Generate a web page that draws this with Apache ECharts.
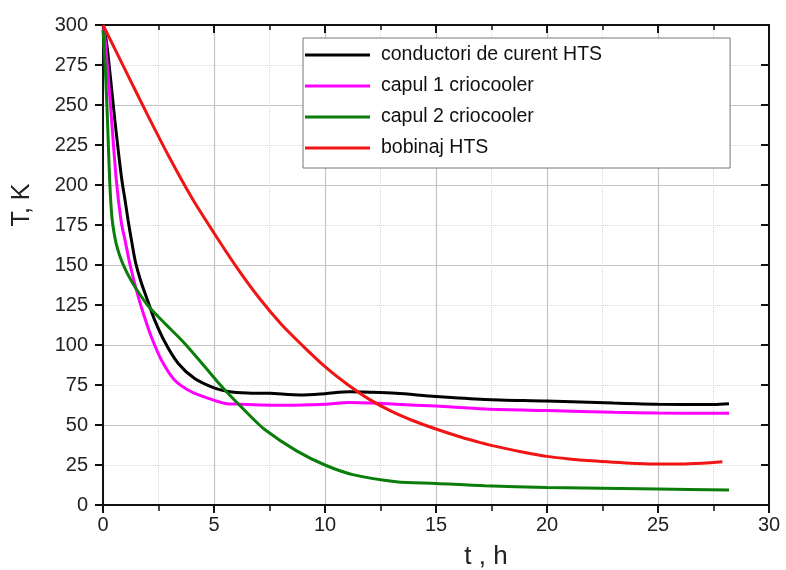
<!DOCTYPE html>
<html>
<head>
<meta charset="utf-8">
<script src="https://cdn.jsdelivr.net/npm/echarts@6/dist/echarts.min.js"></script>
<style>
  html, body { margin: 0; padding: 0; background: #fff; }
  #chart { width: 786px; height: 570px; }
</style>
</head>
<body>
<div id="chart"></div>
<script>
// Cooldown of the HTS magnet system: temperature T (K) versus time t (h)
const seriesNames = ['conductori de curent HTS', 'capul 1 criocooler', 'capul 2 criocooler', 'bobinaj HTS'];
const seriesColors = ['#000000', '#ff00ff', '#0a7d0a', '#f01414'];

// [t (h), T (K)]
const conductori = [
  [0, 300], [0.15, 290], [0.3, 272], [0.53, 241], [0.7, 220], [0.86, 202], [1.0, 190],
  [1.13, 178], [1.3, 164], [1.46, 152], [1.7, 140], [2.03, 127], [2.3, 116.5],
  [2.78, 102], [3.38, 88.6], [4.13, 79], [5.03, 73], [5.63, 71], [6.5, 70], [7.5, 69.8],
  [8.9, 68.8], [10, 69.6], [11.1, 70.8], [12, 70.5], [13.2, 69.8], [15, 67.8], [17.2, 66],
  [20, 65], [23, 63.7], [25, 63], [27.5, 62.8], [28.2, 63.3]
];
const capul1 = [
  [0, 298], [0.1, 290], [0.33, 251], [0.6, 203], [0.82, 177], [1.0, 165], [1.22, 150],
  [1.58, 130.5], [1.88, 117], [2.18, 105], [2.63, 90.6], [3.23, 78], [3.98, 70.8],
  [4.88, 66], [5.5, 63.5], [6.2, 63], [8.3, 62.3], [10, 63], [11.1, 64], [12, 63.8],
  [13.2, 63], [15, 61.8], [17.2, 60], [20, 59], [23, 58], [25, 57.5], [28.2, 57.3]
];
const capul2 = [
  [0, 297], [0.08, 280], [0.19, 245], [0.3, 203], [0.4, 180], [0.5, 170], [0.6, 163],
  [0.75, 156], [0.95, 149], [1.2, 142], [1.5, 135], [2.03, 124.5], [2.78, 113.6],
  [3.68, 101], [4.58, 86.5], [5.48, 72], [6.5, 57.5], [7.3, 47], [8.7, 34], [10, 25],
  [11.25, 19], [13.2, 14.6], [15, 13.5], [17.2, 12], [20, 11], [25, 10], [28.2, 9.4]
];
const bobinaj = [
  [0, 300], [1, 272], [2, 244], [3, 217], [4, 192], [5, 170], [6, 149], [7, 130],
  [8, 113.5], [9, 99.5], [10, 86.5], [11, 75.5], [12, 66], [13, 58.5], [14, 52.5],
  [15, 47.5], [16, 43], [17, 39], [18, 35.7], [19, 32.8], [20, 30.4], [21, 28.8],
  [22, 27.6], [23, 26.7], [24, 26], [25, 25.6], [26, 25.6], [27, 26.1], [27.9, 27]
];
const seriesData = [conductori, capul1, capul2, bobinaj];

const xTicks = { min: 0, max: 30, step: 5 };
const yTicks = { min: 0, max: 300, step: 25 };

const FONT = 'Liberation Sans, Arial, sans-serif';
const gridColor = '#c4c4c4';
const minorColor = '#d6d6d6';

const chart = echarts.init(document.getElementById('chart'), null, { renderer: 'canvas' });

chart.setOption({
  animation: false,
  backgroundColor: '#ffffff',
  grid: { left: 103, top: 25, right: 17, bottom: 65, containLabel: false },
  legend: {
    data: seriesNames.map(n => ({ name: n, icon: 'rect' })),
    orient: 'vertical',
    left: 303,
    top: 38,
    backgroundColor: '#ffffff',
    borderColor: '#777777',
    borderWidth: 1,
    padding: [7, 128, 10, 2],
    itemWidth: 65,
    itemHeight: 3,
    itemGap: 11,
    selectedMode: false,
    textStyle: { fontFamily: FONT, fontSize: 19.5, color: '#111', lineHeight: 20, padding: [0, 0, 0, 6] }
  },
  xAxis: [
    {
      type: 'value', position: 'bottom',
      min: xTicks.min, max: xTicks.max, interval: xTicks.step,
      axisLine: { show: true, onZero: false, lineStyle: { color: '#111', width: 2 } },
      axisTick: { show: true, inside: false, length: 8, lineStyle: { color: '#111', width: 2 } },
      minorTick: { show: true, splitNumber: 2, length: 6, lineStyle: { color: '#111', width: 1.5 } },
      axisLabel: { fontFamily: FONT, fontSize: 20, color: '#222', margin: 10 },
      splitLine: { show: true, lineStyle: { color: gridColor, width: 1.2 } },
      minorSplitLine: { show: true, lineStyle: { color: minorColor, width: 1, type: 'dotted' } }
    },
    {
      type: 'value', position: 'top',
      min: xTicks.min, max: xTicks.max, interval: xTicks.step,
      axisLine: { show: true, onZero: false, lineStyle: { color: '#111', width: 2 } },
      axisTick: { show: true, inside: true, length: 8, lineStyle: { color: '#111', width: 2 } },
      minorTick: { show: true, splitNumber: 2, length: 5, lineStyle: { color: '#111', width: 1.5 } },
      axisLabel: { show: false },
      splitLine: { show: false }
    }
  ],
  yAxis: [
    {
      type: 'value', position: 'left',
      min: yTicks.min, max: yTicks.max, interval: yTicks.step,
      axisLine: { show: true, onZero: false, lineStyle: { color: '#111', width: 2 } },
      axisTick: { show: true, inside: false, length: 8, lineStyle: { color: '#111', width: 2 } },
      axisLabel: { fontFamily: FONT, fontSize: 20, color: '#222', margin: 15 },
      splitLine: { show: false }
    },
    {
      type: 'value', position: 'right',
      min: yTicks.min, max: yTicks.max, interval: yTicks.step * 2,
      axisLine: { show: true, onZero: false, lineStyle: { color: '#111', width: 2 } },
      axisTick: { show: true, inside: true, length: 8, lineStyle: { color: '#111', width: 2 } },
      minorTick: { show: true, splitNumber: 2, length: 8, lineStyle: { color: '#111', width: 2 } },
      axisLabel: { show: false },
      splitLine: { show: true, lineStyle: { color: gridColor, width: 1.2 } },
      minorSplitLine: { show: true, lineStyle: { color: minorColor, width: 1, type: 'dotted' } }
    }
  ],
  series: seriesNames.map((name, i) => ({
    name: name,
    type: 'line',
    xAxisIndex: 0,
    yAxisIndex: 0,
    data: seriesData[i],
    smooth: 0.3,
    symbol: 'none',
    color: seriesColors[i],
    lineStyle: { color: seriesColors[i], width: 3 },
    emphasis: { disabled: true },
    z: 3 + i
  })),
  graphic: [
    {
      type: 'text', x: 22, y: 205, rotation: Math.PI / 2,
      style: { text: 'T, K', font: '25px ' + FONT, fill: '#222', textAlign: 'center', textVerticalAlign: 'middle' }
    },
    {
      type: 'text', x: 486, y: 557,
      style: { text: 't , h', font: '26px ' + FONT, fill: '#222', textAlign: 'center', textVerticalAlign: 'middle' }
    }
  ]
});
</script>
</body>
</html>
